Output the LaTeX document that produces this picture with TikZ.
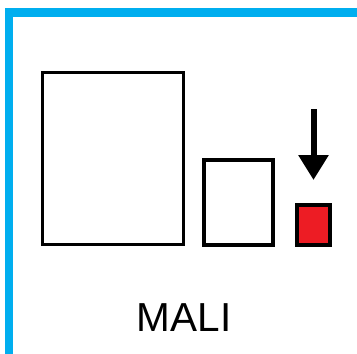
\documentclass[tikz,border=0pt]{standalone}
\usepackage{fontspec}
\setmainfont{Liberation Sans}
\usetikzlibrary{arrows.meta}
\definecolor{frameblue}{HTML}{00AEEF}
\definecolor{boxred}{HTML}{ED1C24}
\tikzset{
  box/.style={draw, line width=3.5pt, inner sep=0pt, fill=white},
  pointer/.style={line width=6pt, -{Triangle[length=25pt,width=29pt]}}
}
\begin{document}
\begin{tikzpicture}[x=1pt,y=-1pt]
        \useasboundingbox (0,0) rectangle (357,354);
        \draw[frameblue, line width=8.5pt, line join=miter] (9,360) -- (9,12.5) -- (362,12.5);

        \node[box, minimum width=140.6pt, minimum height=171.6pt] (big) at (113,158.5) {};
        \node[box, minimum width=69pt, minimum height=85pt] (mid) at (238.5,202.5) {};
        \node[box, line width=4pt, fill=boxred, minimum width=32.7pt, minimum height=39.4pt] (small) at (313.3,225) {};

        \coordinate (top) at (313.5,109);
        \coordinate (tip) at (313.5,180);
        \draw[pointer] (top) -- (tip);

        \node[anchor=base, inner sep=0pt, font=\fontsize{40.5pt}{40.5pt}\selectfont] (name) at (184,331.7) {MALI};
    \end{tikzpicture}
\end{document}
